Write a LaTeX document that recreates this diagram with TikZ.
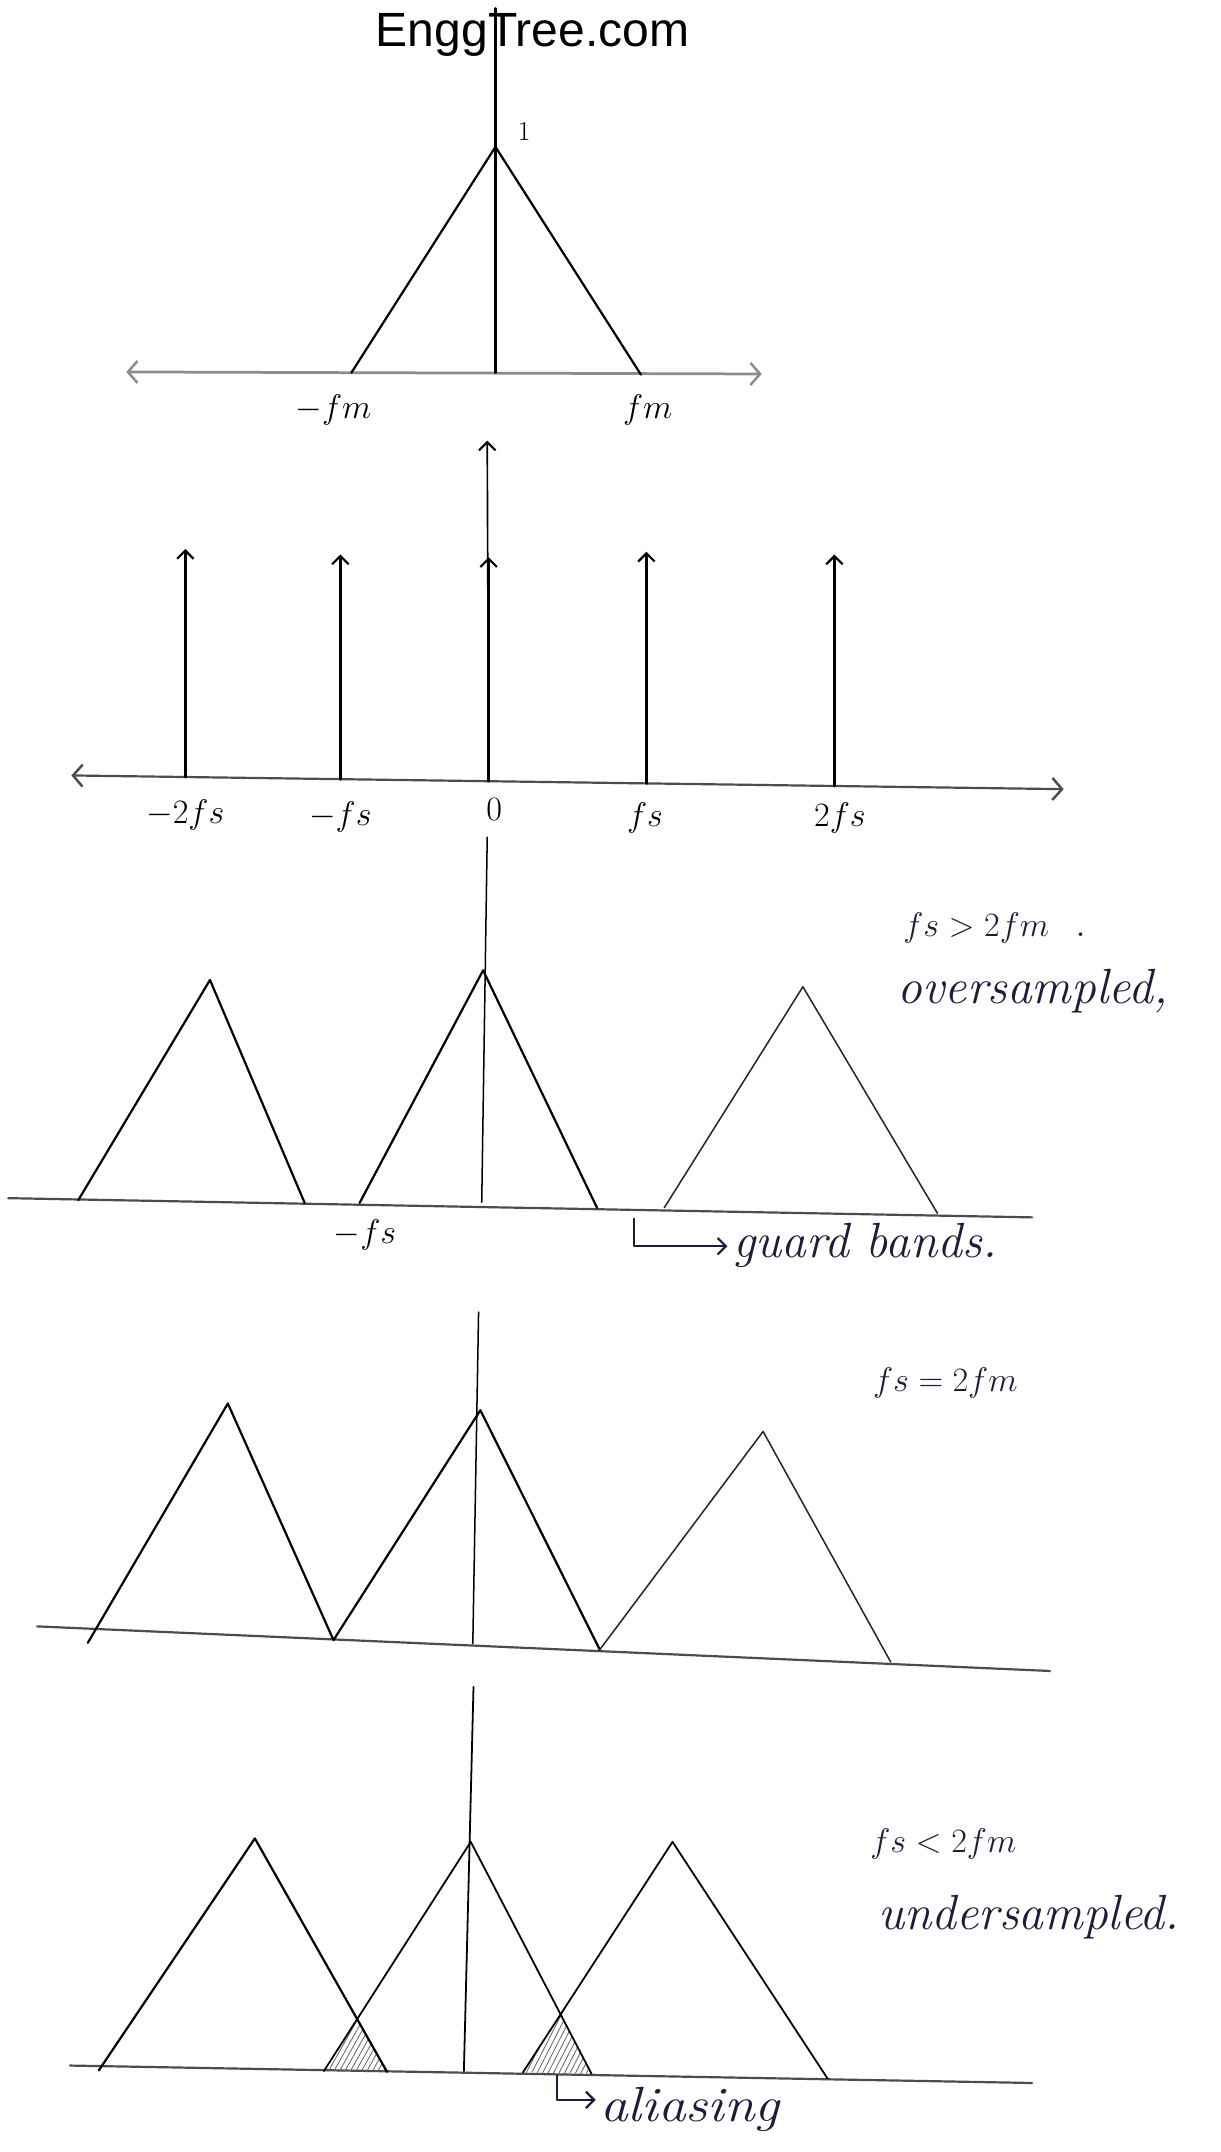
\documentclass[tikz,border=0pt]{standalone}
\usepackage{fontspec}
\newfontfamily\wmfont{Liberation Sans}
\usetikzlibrary{arrows.meta}
\definecolor{ink}{RGB}{28,28,60}
\begin{document}
\begin{tikzpicture}[x=1pt,y=-1pt,line cap=round,line join=round,
  stroke/.style={line width=1.6pt,black},
  thinstroke/.style={line width=1.1pt,black!85},
  impulse/.style={line width=2pt,black},
  axisline/.style={line width=1.6pt,black!70},
  axisgray/.style={line width=2pt,black!45},
  barb/.style={-{Straight Barb[length=6pt,width=12pt,line width=1.6pt]}},
  barbs/.style={{Straight Barb[length=7pt,width=16pt,line width=1.8pt]}-{Straight Barb[length=7pt,width=16pt,line width=1.8pt]}},
  hatch/.style={line width=0.6pt,black!60},
  lbl/.style={font=\fontsize{27}{30}\selectfont,inner sep=0pt},
  cond/.style={font=\fontsize{32}{36}\selectfont,inner sep=0pt,text=ink,anchor=base west},
  word/.style={font=\itshape\fontsize{36}{40}\selectfont,inner sep=0pt,text=ink,anchor=base west}]
\useasboundingbox (0,0) rectangle (889,1568);
\fill[white] (0,0) rectangle (889,1568);

% ---------------- panel 1 ----------------
\coordinate (a1t) at (361,6);
\coordinate (a1o) at (361,271.6);
\coordinate (a1l) at (92,271);
\coordinate (a1r) at (555,272.5);
\coordinate (t1p) at (361,107);
\coordinate (t1a) at (256,271.6);
\coordinate (t1b) at (467,273);
\draw[axisgray,barbs] (a1l) -- (a1r);
\draw[stroke] (a1t) -- (a1o);
\draw[stroke] (t1a) -- (t1p) -- (t1b);
\node[font=\wmfont\fontsize{35}{40}\selectfont,anchor=base,inner sep=0pt] (title) at (388,34) {EnggTree.com};
\node[font=\fontsize{20}{22}\selectfont,inner sep=0pt] (one) at (382,96) {1};
\node[lbl] (mfm) at (243,299) {$-fm$};
\node[lbl] (pfm) at (472,299) {$fm$};

% ---------------- panel 2 ----------------
\coordinate (a2l) at (52,565);
\coordinate (a2r) at (775,575);
\coordinate (a2t) at (355,321);
\coordinate (b1) at (135,566.1);
\coordinate (b2) at (248,567.7);
\coordinate (b3) at (356,569.2);
\coordinate (b4) at (471,570.8);
\coordinate (b5) at (608,572.7);
\coordinate (k1) at (135,400);
\coordinate (k2) at (248,404);
\coordinate (k3) at (356,406);
\coordinate (k4) at (471,402);
\coordinate (k5) at (608,404);
\draw[axisline,barbs] (a2l) -- (a2r);
\draw[line width=1.2pt,black,barb] (b3) -- (a2t);
\foreach \i in {1,...,5} \draw[impulse,barb] (b\i) -- (k\i);
\node[lbl] (m2fs) at (135,594) {$-2fs$};
\node[lbl] (mfs) at (248,595) {$-fs$};
\node[lbl] (zero) at (360,590) {$0$};
\node[lbl] (pfs) at (470,596) {$fs$};
\node[lbl] (p2fs) at (612,596) {$2fs$};

% ---------------- panel 3 ----------------
\coordinate (a3t) at (355,610);
\coordinate (a3o) at (351,876);
\coordinate (a3l) at (6,873);
\coordinate (a3r) at (752,887);
\draw[axisline] (a3l) -- (a3r);
\draw[line width=1.1pt,black] (a3t) -- (a3o);
\coordinate (u1a) at (57,874.5);
\coordinate (u1p) at (153,714);
\coordinate (u1b) at (222,876.5);
\coordinate (u2a) at (262,876.5);
\coordinate (u2p) at (352,707);
\coordinate (u2b) at (435,880);
\coordinate (u3a) at (484,880);
\coordinate (u3p) at (585,719);
\coordinate (u3b) at (683,884);
\draw[stroke] (u1a) -- (u1p) -- (u1b);
\draw[stroke] (u2a) -- (u2p) -- (u2b);
\draw[thinstroke] (u3a) -- (u3p) -- (u3b);
\node[lbl] (mfs3) at (266,900) {$-fs$};
\node[cond] (c3) at (658,682) {$fs > 2fm$\ \ .};
\node[word] (over) at (654,731) {oversampled,};
\coordinate (gb0) at (462,888);
\coordinate (gb1) at (530,908);
\draw[line width=1.5pt,ink,barb] (gb0) |- (gb1);
\node[word] (guard) at (534,916) {guard bands.};

% ---------------- panel 4 ----------------
\coordinate (a4t) at (348.7,956);
\coordinate (a4o) at (344.5,1197.5);
\coordinate (a4l) at (27,1185);
\coordinate (a4r) at (765,1217.5);
\draw[axisline] (a4l) -- (a4r);
\draw[line width=1.1pt,black] (a4t) -- (a4o);
\coordinate (v1a) at (64,1197);
\coordinate (v1p) at (166,1022.6);
\coordinate (v1b) at (243,1195);
\coordinate (v2p) at (350,1027.5);
\coordinate (v2b) at (437,1202);
\coordinate (v3p) at (556,1043);
\coordinate (v3b) at (649,1211);
\draw[stroke] (v1a) -- (v1p) -- (v1b) -- (v2p) -- (v2b);
\draw[thinstroke] (v2b) -- (v3p) -- (v3b);
\node[cond] (c4) at (636,1014) {$fs = 2fm$};

% ---------------- panel 5 ----------------
\coordinate (a5t) at (345,1229);
\coordinate (a5o) at (338,1509);
\coordinate (a5l) at (51,1505);
\coordinate (a5r) at (752,1517.7);
\draw[axisline] (a5l) -- (a5r);
\draw[line width=1.3pt,black] (a5t) -- (a5o);
\coordinate (w1a) at (72,1508.5);
\coordinate (w1p) at (185.7,1339.5);
\coordinate (w1b) at (282,1509.6);
\coordinate (w2a) at (236,1509);
\coordinate (w2p) at (343,1342);
\coordinate (w2b) at (431,1511);
\coordinate (w3a) at (381,1510);
\coordinate (w3p) at (490,1342);
\coordinate (w3b) at (603,1514.5);
\coordinate (i1) at (intersection of w1p--w1b and w2a--w2p);
\coordinate (i2) at (intersection of w2p--w2b and w3a--w3p);
\begin{scope}
  \clip (w2a) -- (i1) -- (w1b) -- cycle;
  \foreach \x in {200,204,...,300} \draw[hatch] (\x,1515) -- (\x+28,1465);
\end{scope}
\begin{scope}
  \clip (w3a) -- (i2) -- (w2b) -- cycle;
  \foreach \x in {345,349,...,450} \draw[hatch] (\x,1515) -- (\x+28,1460);
\end{scope}
\draw[stroke] (w1a) -- (w1p) -- (w1b);
\draw[line width=1.3pt,black] (w2a) -- (w2p) -- (w2b);
\draw[line width=1.3pt,black] (w3a) -- (w3p) -- (w3b);
\node[cond] (c5) at (634,1350) {$fs < 2fm$};
\node[word] (under) at (640,1406) {undersampled.};
\coordinate (al0) at (406,1512);
\coordinate (al1) at (434,1530);
\draw[line width=1.5pt,ink,barb] (al0) |- (al1);
\node[word] (alias) at (437,1546) {\scalebox{1.12}[1]{aliasing}};
\end{tikzpicture}
\end{document}
